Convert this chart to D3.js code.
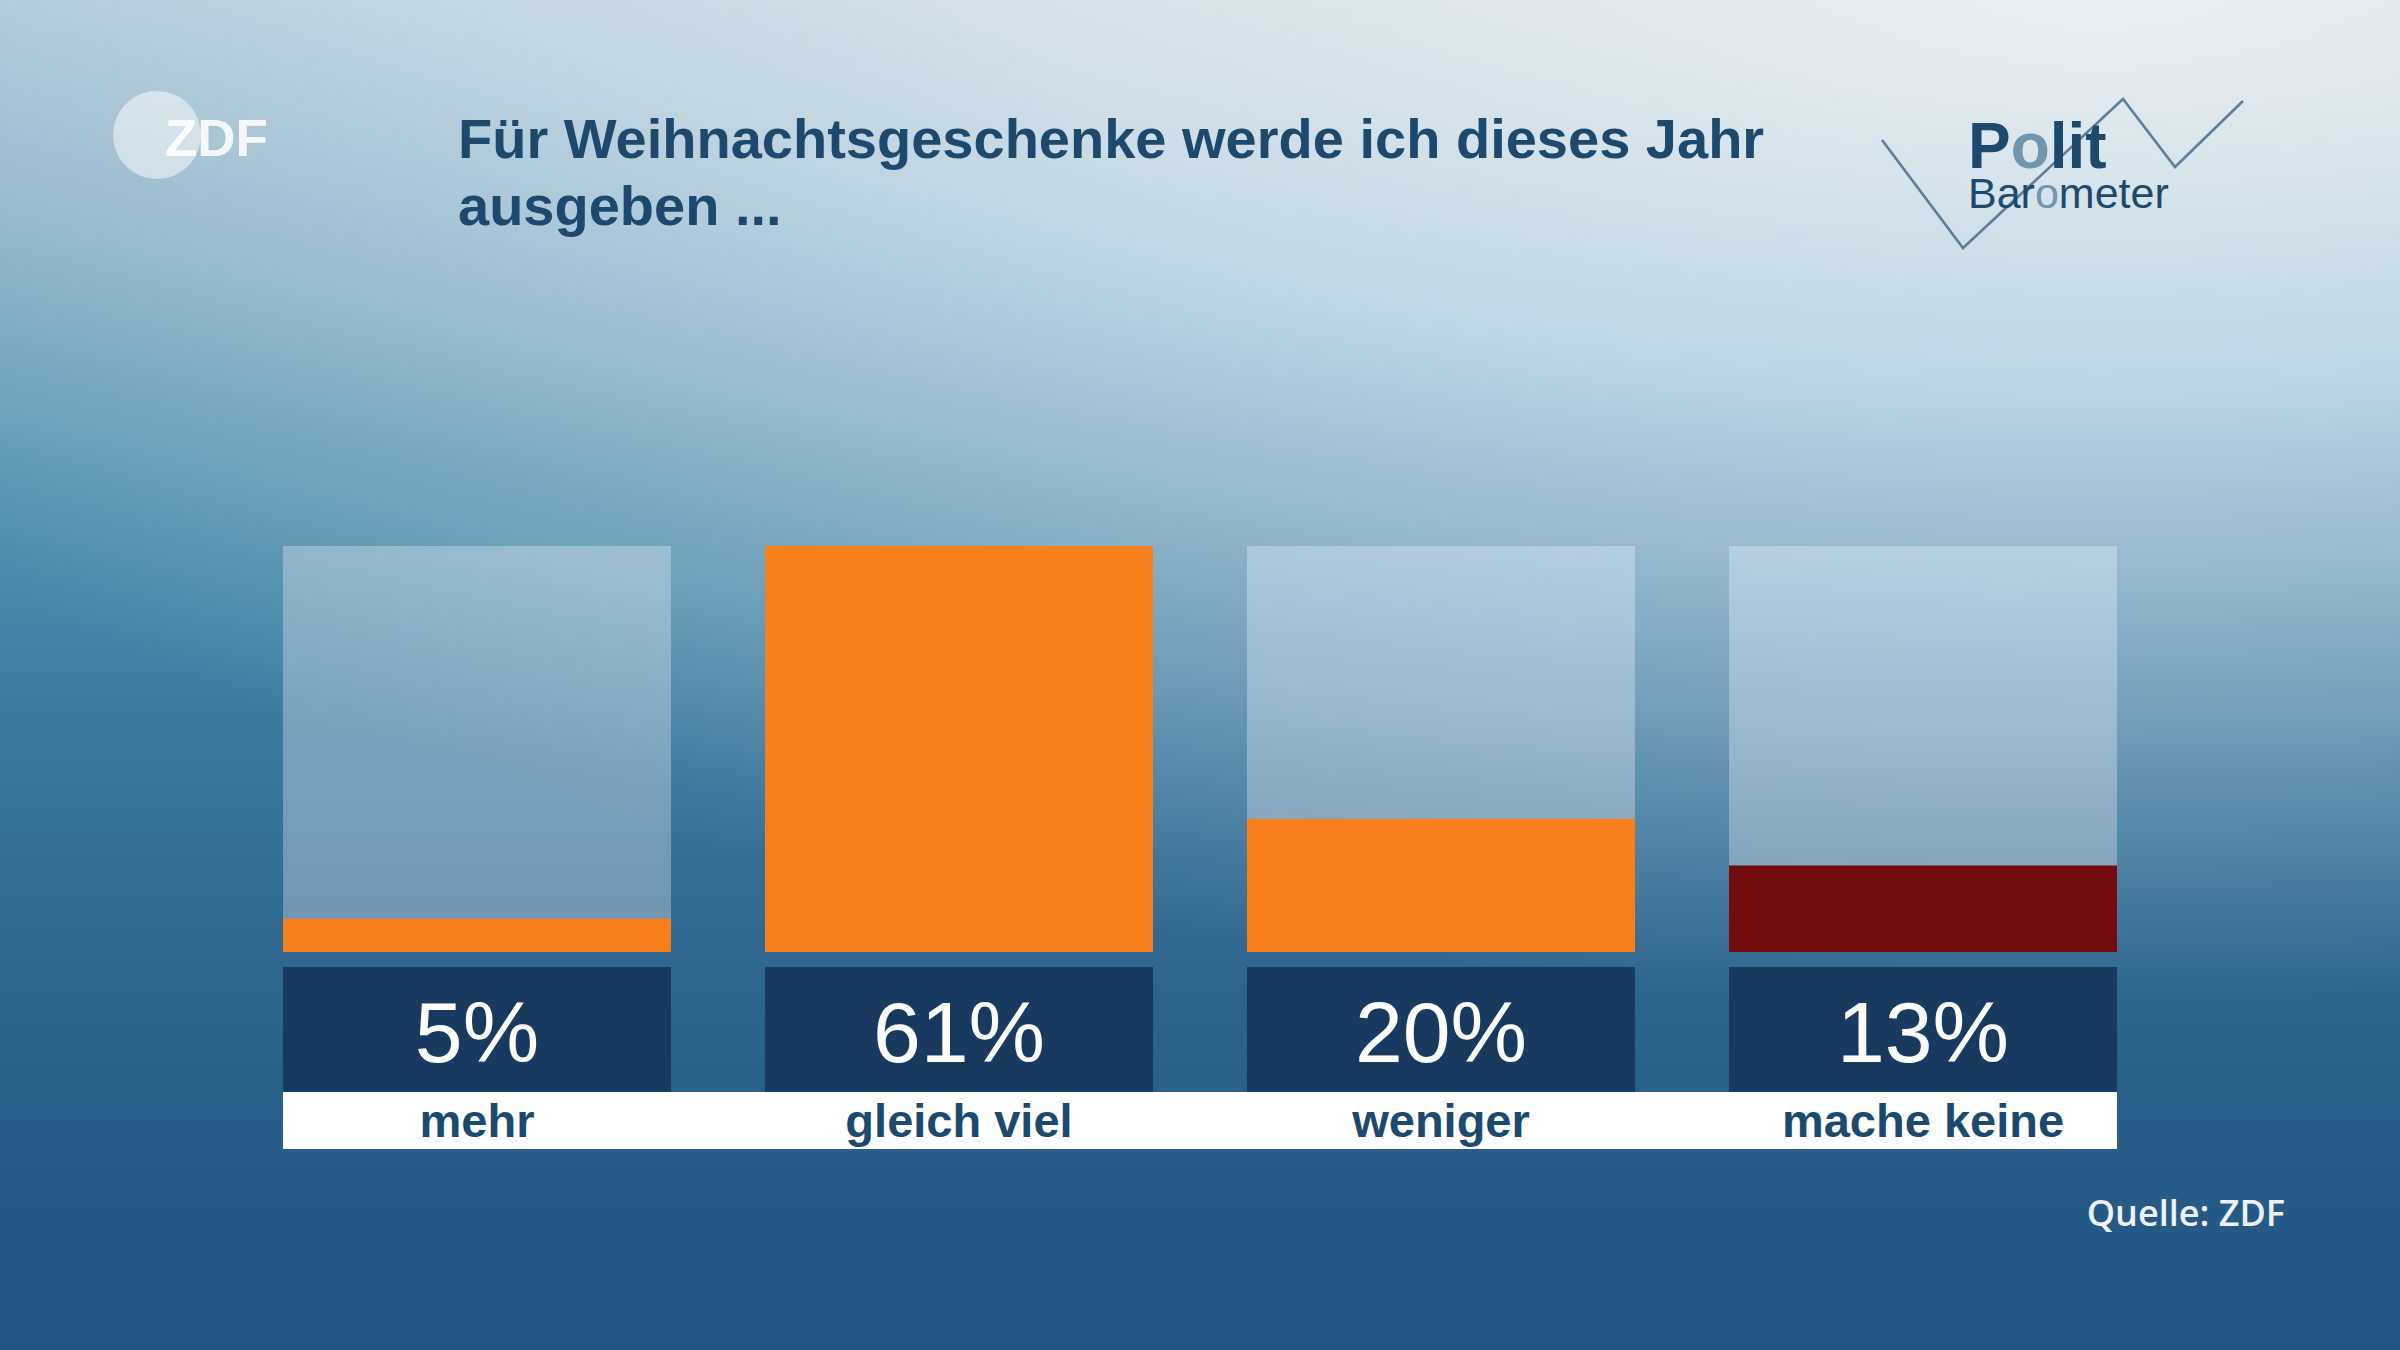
<!DOCTYPE html>
<html>
<head>
<meta charset="utf-8">
<script src="https://cdn.jsdelivr.net/npm/d3@7"></script>
<style>
  html, body { margin: 0; padding: 0; background: #22557f; }
  svg { display: block; }
</style>
</head>
<body>
<svg id="chart" width="2400" height="1350"></svg>
<script>
// ---- data ----
const titleLines = ["Für Weihnachtsgeschenke werde ich dieses Jahr", "ausgeben ..."];
const categories = ["mehr", "gleich viel", "weniger", "mache keine"];
const values = [5, 61, 20, 13];
const valueLabels = ["5%", "61%", "20%", "13%"];
const sourceText = "Quelle: ZDF";

// ---- setup ----
const W = 2400, H = 1350;
const svg = d3.select("#chart");
const defs = svg.append("defs");

// background gradients
const base = defs.append("linearGradient").attr("id", "bgBase")
  .attr("gradientUnits", "userSpaceOnUse").attr("x1", 0).attr("y1", 0).attr("x2", 0).attr("y2", H);
[[0, "#a6c1d0"], [0.113, "#8cb3c7"], [0.227, "#70a4be"], [0.34, "#5593b1"], [0.453, "#4686a9"],
 [0.567, "#3a769d"], [0.68, "#316a93"], [0.793, "#2a618b"], [0.907, "#255a86"], [1, "#225682"]]
  .forEach(([o, c]) => base.append("stop").attr("offset", o).attr("stop-color", c));

const glow = defs.append("radialGradient").attr("id", "bgGlow")
  .attr("gradientUnits", "userSpaceOnUse")
  .attr("cx", 0).attr("cy", 0).attr("r", 1)
  .attr("gradientTransform", "translate(2100,0) scale(2600,1000)");
[[0, 0.82], [0.4, 0.6], [0.7, 0.3], [1, 0]]
  .forEach(([o, a]) => glow.append("stop").attr("offset", o).attr("stop-color", "#f6f8fa").attr("stop-opacity", a));

svg.append("rect").attr("width", W).attr("height", H).attr("fill", "url(#bgBase)");
svg.append("rect").attr("width", W).attr("height", H).attr("fill", "url(#bgGlow)");

// ---- ZDF logo ----
const logo = svg.append("g");
logo.append("circle").attr("cx", 157).attr("cy", 135).attr("r", 44)
  .attr("fill", "#ffffff").attr("fill-opacity", 0.5);
logo.append("text").attr("x", 165).attr("y", 156)
  .attr("font-family", "'Liberation Sans', Arial, sans-serif").attr("font-weight", 700)
  .attr("font-size", 52).attr("fill", "#ffffff").attr("fill-opacity", 0.88)
  .attr("textLength", 103).attr("lengthAdjust", "spacingAndGlyphs")
  .text("ZDF");

// ---- title ----
const title = svg.append("text")
  .attr("font-family", "'Liberation Sans', Arial, sans-serif").attr("font-weight", 700)
  .attr("font-size", 56).attr("fill", "#1c4a6e");
titleLines.forEach((t, i) => {
  title.append("tspan").attr("x", 458).attr("y", 158 + i * 67).text(t);
});

// ---- Politbarometer logo ----
const pb = svg.append("g");
const pbLine = d3.line();
pb.append("path")
  .attr("d", pbLine([[1882, 140], [1963, 248], [2123, 99], [2175, 167], [2243, 101]]))
  .attr("fill", "none").attr("stroke", "#5d7f99").attr("stroke-width", 2.6);
const dark = "#1c4a6f", light = "#7096b0";
const polit = pb.append("text").attr("x", 1968).attr("y", 168)
  .attr("font-family", "'Liberation Sans', Arial, sans-serif").attr("font-weight", 700)
  .attr("font-size", 64);
[["P", dark], ["o", light], ["lit", dark]].forEach(([t, c]) => polit.append("tspan").attr("fill", c).text(t));
const baro = pb.append("text").attr("x", 1968).attr("y", 208)
  .attr("font-family", "'Liberation Sans', Arial, sans-serif").attr("font-weight", 400)
  .attr("font-size", 43);
[["Bar", dark], ["o", light], ["meter", dark]].forEach(([t, c]) => baro.append("tspan").attr("fill", c).text(t));

// ---- scales ----
const x = d3.scaleBand().domain(categories).range([283, 2117]).paddingInner(0.195).paddingOuter(0);
const y = d3.scaleLinear().domain([0, d3.max(values)]).range([952, 546]);
const color = d3.scaleOrdinal().domain(categories).range(["#f97f1c", "#f97f1c", "#f97f1c", "#730c0e"]);

const data = categories.map((c, i) => ({ cat: c, value: values[i], label: valueLabels[i] }));

// background bar (full height)
svg.append("g").selectAll("rect").data(data).join("rect")
  .attr("x", d => x(d.cat)).attr("width", x.bandwidth())
  .attr("y", y(d3.max(values))).attr("height", y(0) - y(d3.max(values)))
  .attr("fill", "#ffffff").attr("fill-opacity", 0.3);

// value bars
svg.append("g").selectAll("rect").data(data).join("rect")
  .attr("x", d => x(d.cat)).attr("width", x.bandwidth())
  .attr("y", d => y(d.value)).attr("height", d => y(0) - y(d.value))
  .attr("fill", d => color(d.cat));

// value boxes
const boxTop = y(0) + 15, boxBottom = y(0) + 140;
svg.append("g").selectAll("rect").data(data).join("rect")
  .attr("x", d => x(d.cat)).attr("width", x.bandwidth())
  .attr("y", boxTop).attr("height", boxBottom - boxTop)
  .attr("fill", "#15365b").attr("fill-opacity", 0.9);

svg.append("g").selectAll("text").data(data).join("text")
  .attr("x", d => x(d.cat) + x.bandwidth() / 2).attr("y", 1062)
  .attr("text-anchor", "middle")
  .attr("font-family", "'Liberation Sans', Arial, sans-serif").attr("font-weight", 400)
  .attr("font-size", 86).attr("fill", "#ffffff")
  .text(d => d.label);

// label strip
const r = x.range();
svg.append("rect").attr("x", r[0]).attr("width", r[1] - r[0])
  .attr("y", boxBottom).attr("height", 57).attr("fill", "#ffffff");

svg.append("g").selectAll("text").data(data).join("text")
  .attr("x", d => x(d.cat) + x.bandwidth() / 2).attr("y", 1137)
  .attr("text-anchor", "middle")
  .attr("font-family", "'Liberation Sans', Arial, sans-serif").attr("font-weight", 700)
  .attr("font-size", 47).attr("fill", "#1b4a6e")
  .text(d => d.cat);

// ---- source ----
svg.append("text").attr("x", 2285).attr("y", 1226).attr("text-anchor", "end")
  .attr("font-family", "'Open Sans', 'Noto Sans', sans-serif").attr("font-weight", 600)
  .attr("font-size", 36).attr("fill", "#eef0fa")
  .text(sourceText);
</script>
</body>
</html>
